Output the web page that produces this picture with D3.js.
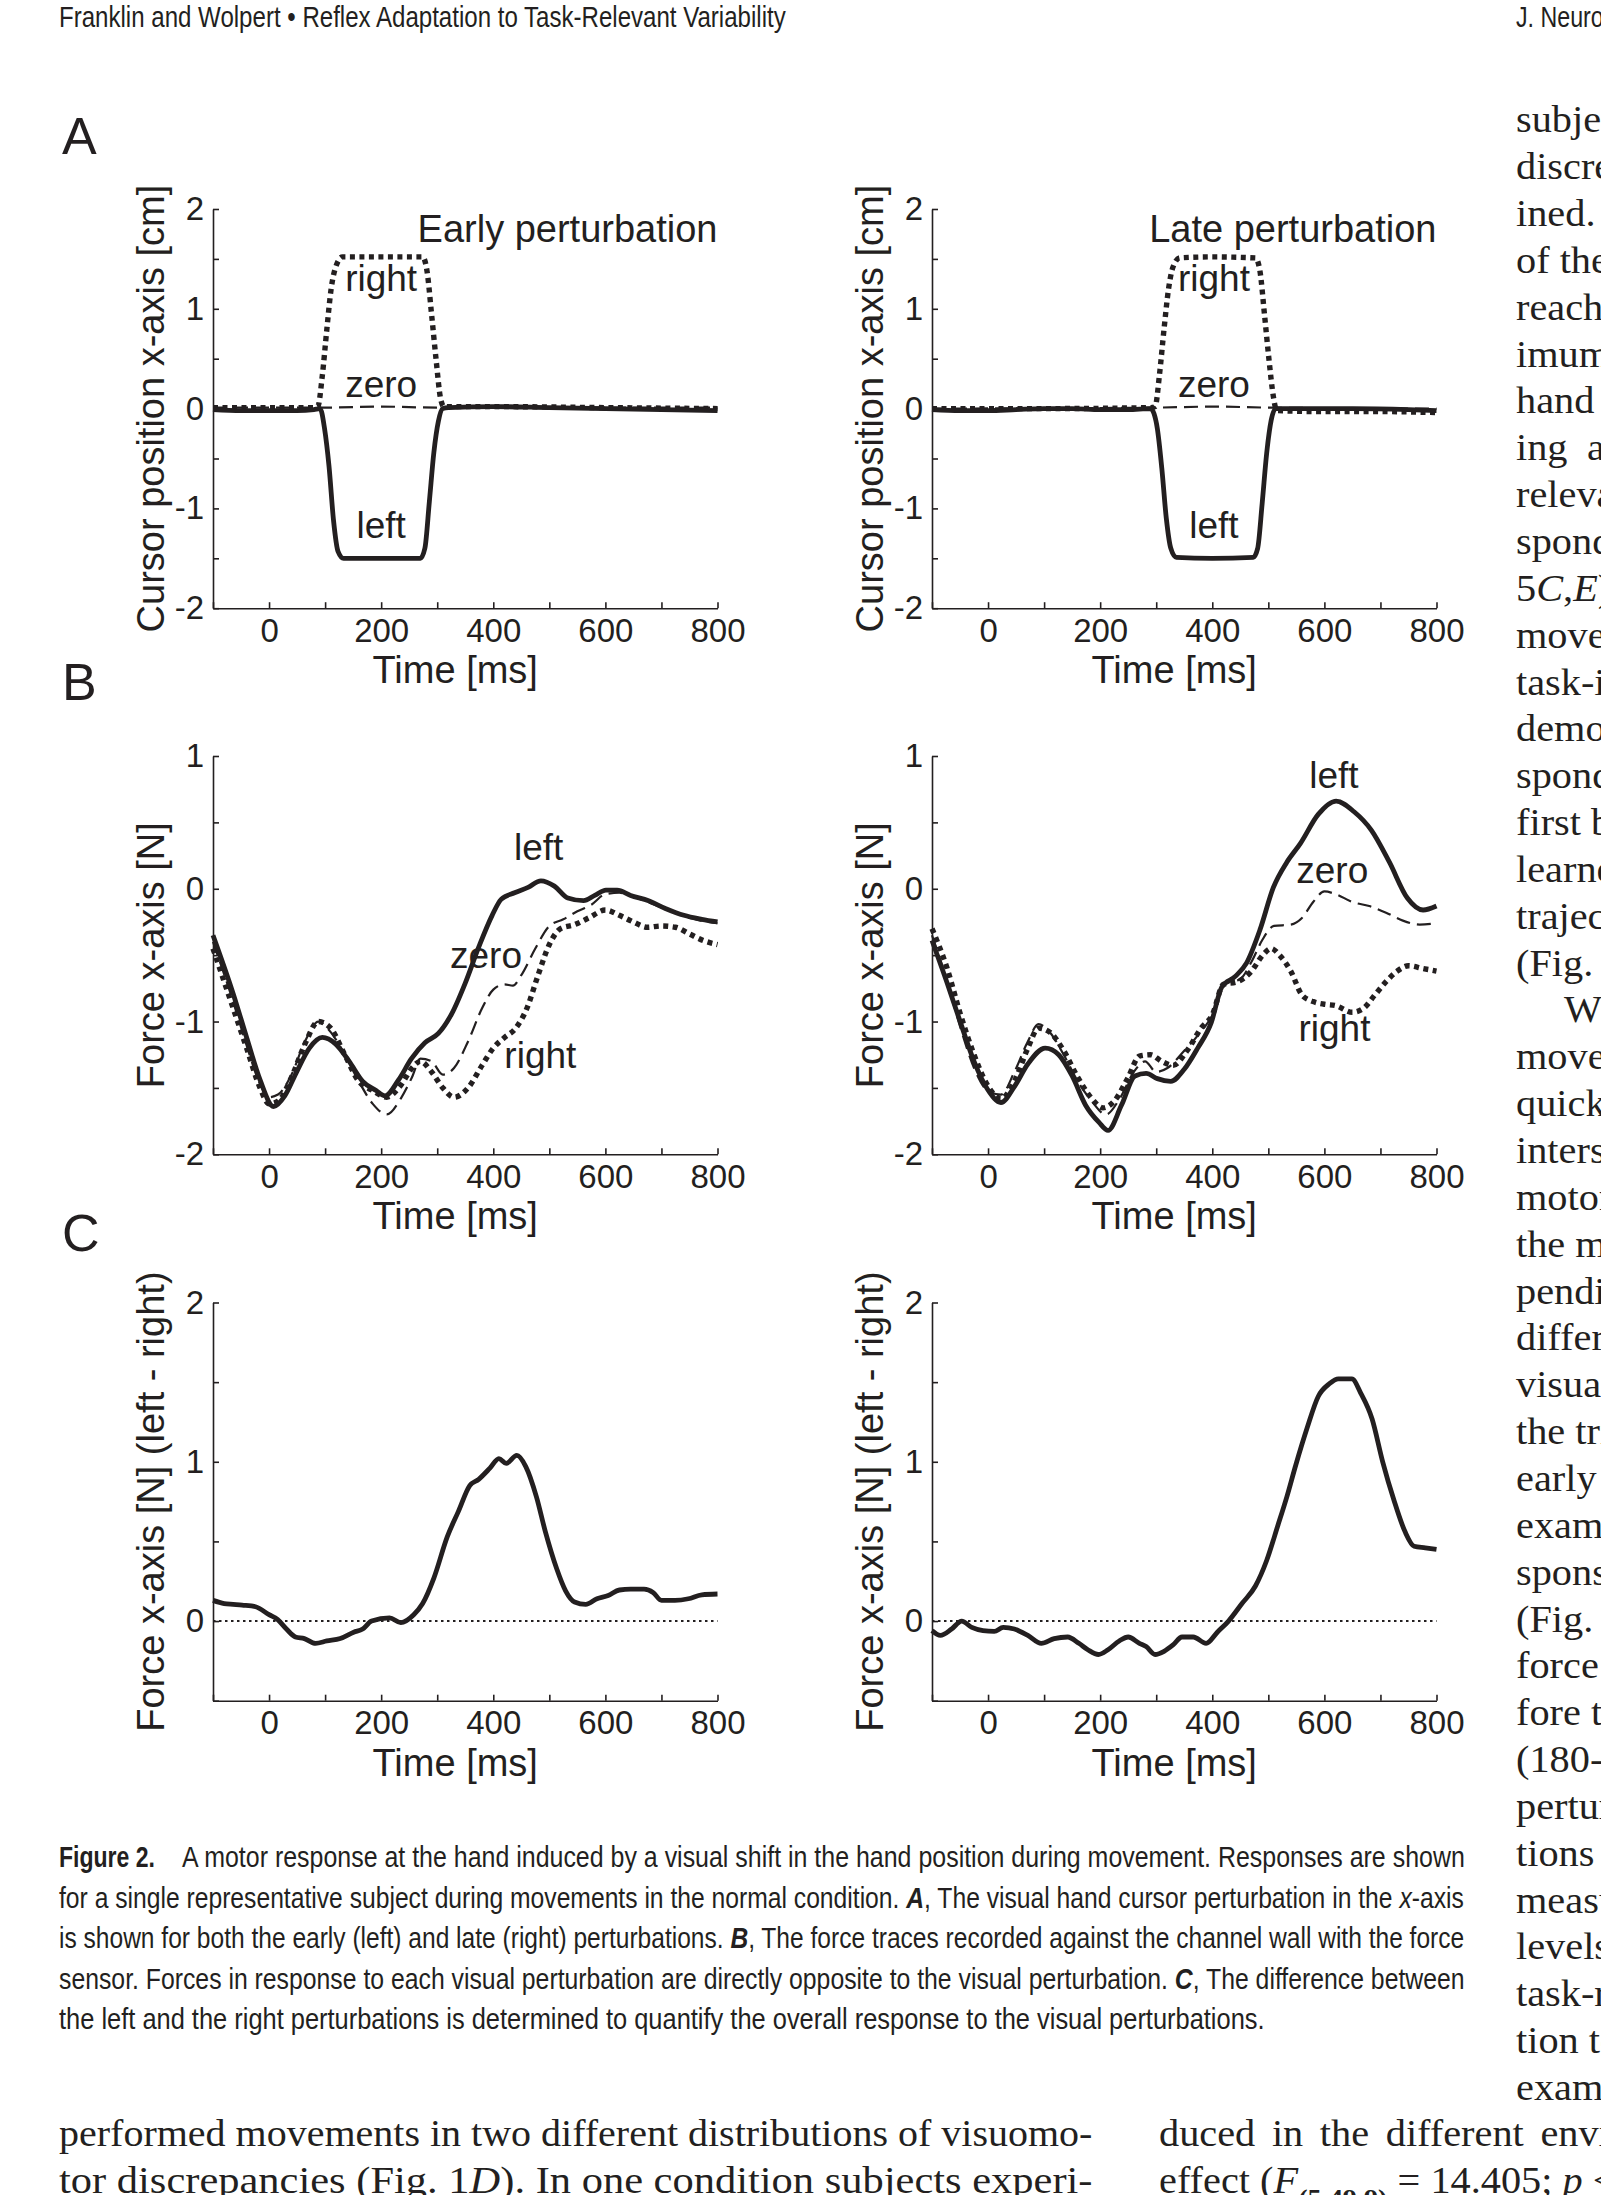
<!DOCTYPE html>
<html>
<head>
<meta charset="utf-8">
<script src="https://cdn.jsdelivr.net/npm/d3@7"></script>
<style>
  body { margin: 0; background: #fff; }
  svg text { fill: #231f20; }
</style>
</head>
<body>
<svg id="page" width="1601" height="2195"></svg>
<script>
const ink = "#231f20";
const sans = "'Liberation Sans', Arial, sans-serif";
const serif = "'Liberation Serif', 'Times New Roman', serif";

/* axis ticks */
const timeTicks = [-100, 0, 100, 200, 300, 400, 500, 600, 700, 800];
const timeLabels = [0, 200, 400, 600, 800];
const cursorTicks = [-2, -1.5, -1, -0.5, 0, 0.5, 1, 1.5, 2];
const forceTicks = [-2, -1.5, -1, -0.5, 0, 0.5, 1];
const diffTicks = [-0.5, 0, 0.5, 1, 1.5, 2];

/* A: cursor position [cm], [time ms, value] */
const cursorEarlyLeft = [[-100,-0.01],[-50,-0.02],[0,-0.02],[50,-0.02],[80,-0.01],[91,0],[99,-0.2],[107,-0.58],[115,-1.12],[123,-1.43],[133,-1.5],[200,-1.5],[270,-1.5],[278,-1.4],[286,-0.93],[294,-0.44],[302,-0.13],[310,0],[320,0.01],[400,0.02],[500,0.01],[600,0],[700,-0.01],[800,-0.02]];
const cursorEarlyRight = [[-100,0.01],[0,0.01],[80,0.01],[87,0.02],[95,0.33],[103,0.79],[111,1.21],[119,1.42],[131,1.52],[200,1.52],[274,1.52],[282,1.37],[290,0.94],[298,0.49],[306,0.1],[312,0.02],[400,0.02],[600,0.01],[800,0]];
const cursorEarlyZero = [[-100,0.01],[100,0.01],[200,0.02],[300,0.01],[500,0.01],[800,0.01]];
const cursorLateLeft = [[-100,-0.01],[-50,-0.02],[0,-0.02],[50,-0.01],[100,0],[150,0],[200,-0.01],[250,-0.01],[290,0],[296,-0.05],[302,-0.2],[310,-0.6],[318,-1.1],[326,-1.4],[336,-1.49],[400,-1.5],[473,-1.49],[481,-1.4],[489,-0.95],[497,-0.45],[505,-0.12],[513,0],[550,0],[650,0],[750,-0.01],[800,-0.02]];
const cursorLateRight = [[-100,0],[100,0],[290,0.01],[298,0.02],[306,0.35],[314,0.8],[322,1.2],[330,1.42],[342,1.51],[400,1.52],[477,1.51],[485,1.38],[493,0.95],[501,0.5],[509,0.12],[515,-0.02],[600,-0.03],[700,-0.03],[800,-0.04]];
const cursorLateZero = [[-100,0],[300,0.01],[400,0.02],[500,0.01],[800,0]];

/* B: force x-axis [N] */
const forceEarlyLeft = [[-100,-0.35],[-64,-0.79],[-40,-1.12],[-16,-1.44],[8,-1.64],[28,-1.56],[48,-1.39],[72,-1.2],[95,-1.12],[119,-1.17],[143,-1.3],[167,-1.45],[191,-1.52],[207,-1.56],[231,-1.44],[254,-1.28],[278,-1.16],[302,-1.09],[326,-0.94],[350,-0.71],[374,-0.44],[398,-0.2],[414,-0.08],[438,-0.03],[462,0.01],[485,0.06],[509,0.02],[533,-0.07],[561,-0.09],[581,-0.05],[601,-0.01],[621,-0.01],[645,-0.05],[677,-0.09],[708,-0.15],[740,-0.2],[772,-0.23],[800,-0.25]];
const forceEarlyZero = [[-100,-0.4],[-64,-0.85],[-40,-1.18],[-16,-1.47],[0,-1.57],[16,-1.55],[40,-1.4],[64,-1.15],[88,-1.0],[110,-1.08],[135,-1.25],[160,-1.45],[185,-1.62],[210,-1.7],[235,-1.58],[255,-1.42],[270,-1.28],[290,-1.3],[310,-1.4],[330,-1.35],[355,-1.15],[380,-0.9],[400,-0.76],[420,-0.72],[435,-0.73],[450,-0.65],[475,-0.45],[500,-0.28],[525,-0.23],[550,-0.17],[575,-0.12],[600,-0.04],[625,-0.03],[650,-0.06],[700,-0.14],[750,-0.22],[800,-0.26]];
const forceEarlyRight = [[-100,-0.45],[-64,-0.9],[-40,-1.2],[-16,-1.5],[0,-1.62],[16,-1.6],[40,-1.42],[64,-1.17],[88,-1.0],[110,-1.05],[135,-1.25],[160,-1.45],[185,-1.52],[210,-1.57],[235,-1.48],[255,-1.35],[270,-1.3],[290,-1.38],[310,-1.5],[330,-1.57],[355,-1.5],[380,-1.33],[400,-1.2],[420,-1.12],[440,-1.05],[460,-0.9],[480,-0.65],[500,-0.42],[520,-0.3],[545,-0.27],[570,-0.22],[600,-0.16],[625,-0.2],[650,-0.25],[675,-0.29],[700,-0.28],[725,-0.29],[750,-0.34],[775,-0.39],[800,-0.42]];
const forceLateLeft = [[-100,-0.39],[-73,-0.71],[-49,-1.01],[-25,-1.3],[-1,-1.51],[23,-1.61],[47,-1.49],[71,-1.32],[102,-1.2],[126,-1.25],[150,-1.41],[174,-1.63],[198,-1.76],[214,-1.82],[238,-1.63],[262,-1.41],[282,-1.39],[302,-1.43],[326,-1.45],[350,-1.36],[374,-1.2],[398,-1.01],[417,-0.74],[441,-0.66],[461,-0.56],[485,-0.31],[509,0.01],[533,0.2],[557,0.34],[589,0.56],[621,0.66],[653,0.58],[684,0.44],[716,0.2],[748,-0.07],[776,-0.16],[800,-0.13]];
const forceLateZero = [[-100,-0.35],[-73,-0.7],[-49,-1.05],[-25,-1.35],[-1,-1.52],[23,-1.55],[47,-1.38],[71,-1.15],[90,-1.02],[110,-1.08],[135,-1.25],[160,-1.45],[185,-1.6],[210,-1.7],[235,-1.58],[260,-1.38],[280,-1.3],[300,-1.38],[320,-1.35],[350,-1.22],[375,-1.1],[400,-0.95],[420,-0.72],[450,-0.68],[470,-0.55],[490,-0.38],[510,-0.28],[540,-0.27],[560,-0.22],[580,-0.1],[600,-0.02],[620,-0.04],[650,-0.1],[680,-0.13],[710,-0.18],[740,-0.24],[770,-0.27],[800,-0.26]];
const forceLateRight = [[-100,-0.3],[-73,-0.6],[-49,-0.95],[-25,-1.25],[-1,-1.48],[23,-1.58],[47,-1.45],[71,-1.2],[90,-1.05],[110,-1.08],[135,-1.22],[160,-1.42],[185,-1.58],[205,-1.65],[225,-1.6],[250,-1.42],[270,-1.26],[290,-1.25],[310,-1.3],[330,-1.33],[355,-1.22],[380,-1.05],[400,-0.95],[420,-0.72],[445,-0.7],[470,-0.62],[490,-0.5],[505,-0.45],[520,-0.5],[540,-0.62],[560,-0.8],[580,-0.85],[600,-0.87],[620,-0.88],[650,-0.93],[670,-0.9],[690,-0.8],[710,-0.7],[730,-0.62],[750,-0.58],[775,-0.6],[800,-0.62]];

/* C: left - right difference [N] */
const diffEarly = [[-100,0.13],[-80,0.11],[-64,0.105],[-48,0.1],[-24,0.09],[0,0.04],[15,0.01],[31,-0.05],[47,-0.1],[63,-0.11],[83,-0.14],[103,-0.125],[127,-0.11],[151,-0.07],[167,-0.05],[183,0],[215,0.02],[235,-0.01],[258,0.04],[274,0.11],[294,0.27],[318,0.53],[338,0.69],[358,0.85],[374,0.89],[394,0.96],[410,1.02],[423,0.99],[442,1.04],[458,0.97],[477,0.78],[493,0.56],[513,0.33],[529,0.19],[545,0.12],[565,0.105],[585,0.14],[605,0.16],[625,0.195],[645,0.2],[669,0.2],[685,0.18],[700,0.13],[724,0.13],[748,0.14],[772,0.165],[800,0.17]];
const diffLate = [[-100,-0.06],[-85,-0.09],[-65,-0.05],[-47,0],[-29,-0.04],[-9,-0.06],[11,-0.065],[27,-0.04],[47,-0.05],[71,-0.09],[95,-0.14],[118,-0.11],[142,-0.1],[162,-0.14],[178,-0.18],[197,-0.21],[214,-0.18],[234,-0.125],[250,-0.1],[270,-0.14],[282,-0.16],[298,-0.21],[314,-0.19],[330,-0.15],[346,-0.1],[366,-0.1],[389,-0.14],[409,-0.07],[429,0],[453,0.11],[477,0.22],[497,0.38],[517,0.6],[533,0.78],[549,0.98],[569,1.21],[589,1.41],[609,1.49],[625,1.52],[649,1.52],[665,1.43],[685,1.27],[704,1.0],[724,0.76],[744,0.56],[760,0.47],[780,0.46],[800,0.45]];
const zeroRef = [[-100,0],[800,0]];

/* page text */
const headerLeft = "Franklin and Wolpert \u2022 Reflex Adaptation to Task-Relevant Variability";
const headerRight = "J. Neurosci.";
const sideColumn = ["subjects","discrepancies","ined.","of the","reaching","imum","hand","ing","relevant","spond","5C,E)","movement","task-irrelevant","demonstrated","spond","first by","learned","trajectory","(Fig.","W","movement","quickly","intersect","motor","the mo","pending","different","visual","the tri","early","example","sponse","(Fig.","force","fore the","(180-","perturb","tions","measured","levels","task-re","tion to","example"];

const svg = d3.select("#page");
const plotW = 504.5;
const line = (x, y) => d3.line().x(d => x(d[0])).y(d => y(d[1])).curve(d3.curveMonotoneX);

const styles = {
  solid: { w: 4.8, dash: null },
  dotted: { w: 5.4, dash: "5,4.5" },
  dashed: { w: 2.2, dash: "14,7" },
  refDot: { w: 2, dash: "2.5,3.5" }
};

function drawPanel(p) {
  const g = svg.append("g");
  const x = d3.scaleLinear().domain([-100, 800]).range([p.left, p.left + plotW]);
  const y = d3.scaleLinear().domain(p.yDomain).range([p.bottom, p.top]);

  const xAxis = g.append("g")
    .attr("transform", `translate(0,${p.bottom})`)
    .call(d3.axisBottom(x).tickValues(timeTicks).tickSize(-6).tickSizeOuter(0).tickPadding(10)
      .tickFormat(d => timeLabels.includes(d) ? d : ""));
  const yAxis = g.append("g")
    .attr("transform", `translate(${p.left},0)`)
    .call(d3.axisLeft(y).tickValues(p.yTicks).tickSize(-6).tickSizeOuter(0).tickPadding(9)
      .tickFormat(d => Number.isInteger(d) ? d : ""));
  [xAxis, yAxis].forEach(a => {
    a.attr("font-size", 33).attr("font-family", sans).attr("color", ink);
    a.selectAll("path, line").attr("stroke-width", 1.6);
  });

  p.series.forEach(s => {
    const st = styles[s.style];
    g.append("path")
      .datum(s.data)
      .attr("d", line(x, y))
      .attr("fill", "none")
      .attr("stroke", ink)
      .attr("stroke-width", st.w)
      .attr("stroke-dasharray", st.dash)
      .attr("stroke-linejoin", "round");
  });

  (p.labels || []).forEach(l => {
    g.append("text")
      .attr("x", x(l[1])).attr("y", y(l[2]))
      .attr("text-anchor", "middle")
      .attr("font-family", sans).attr("font-size", 37)
      .text(l[0]);
  });

  if (p.title) {
    g.append("text")
      .attr("x", x(800)).attr("y", y(1.67))
      .attr("text-anchor", "end")
      .attr("font-family", sans).attr("font-size", 38)
      .text(p.title);
  }

  g.append("text")
    .attr("x", p.left + plotW / 2 - 10).attr("y", p.bottom + 75)
    .attr("text-anchor", "middle")
    .attr("font-family", sans).attr("font-size", 38)
    .text("Time [ms]");

  g.append("text")
    .attr("transform", `translate(${p.left - 49},${(p.top + p.bottom) / 2}) rotate(-90)`)
    .attr("text-anchor", "middle")
    .attr("font-family", sans).attr("font-size", 38)
    .text(p.ylabel);
}

const leftX = 213, rightX = 932;

drawPanel({ left: leftX, top: 209, bottom: 608.2, yDomain: [-2, 2], yTicks: cursorTicks,
  ylabel: "Cursor position x-axis [cm]", title: "Early perturbation",
  series: [{ data: cursorEarlyZero, style: "dashed" }, { data: cursorEarlyRight, style: "dotted" }, { data: cursorEarlyLeft, style: "solid" }],
  labels: [["right", 200, 1.175], ["zero", 200, 0.12], ["left", 200, -1.3]] });
drawPanel({ left: rightX, top: 209, bottom: 608.2, yDomain: [-2, 2], yTicks: cursorTicks,
  ylabel: "Cursor position x-axis [cm]", title: "Late perturbation",
  series: [{ data: cursorLateZero, style: "dashed" }, { data: cursorLateRight, style: "dotted" }, { data: cursorLateLeft, style: "solid" }],
  labels: [["right", 403, 1.175], ["zero", 403, 0.12], ["left", 403, -1.3]] });

drawPanel({ left: leftX, top: 756, bottom: 1154.3, yDomain: [-2, 1], yTicks: forceTicks,
  ylabel: "Force x-axis [N]",
  series: [{ data: forceEarlyZero, style: "dashed" }, { data: forceEarlyRight, style: "dotted" }, { data: forceEarlyLeft, style: "solid" }],
  labels: [["left", 481, 0.215], ["zero", 387, -0.595], ["right", 484, -1.35]] });
drawPanel({ left: rightX, top: 756, bottom: 1154.3, yDomain: [-2, 1], yTicks: forceTicks,
  ylabel: "Force x-axis [N]",
  series: [{ data: forceLateZero, style: "dashed" }, { data: forceLateRight, style: "dotted" }, { data: forceLateLeft, style: "solid" }],
  labels: [["left", 617, 0.76], ["zero", 614, 0.04], ["right", 618, -1.15]] });

drawPanel({ left: leftX, top: 1302.5, bottom: 1700.7, yDomain: [-0.5, 2], yTicks: diffTicks,
  ylabel: "Force x-axis [N] (left - right)",
  series: [{ data: zeroRef, style: "refDot" }, { data: diffEarly, style: "solid" }] });
drawPanel({ left: rightX, top: 1302.5, bottom: 1700.7, yDomain: [-0.5, 2], yTicks: diffTicks,
  ylabel: "Force x-axis [N] (left - right)",
  series: [{ data: zeroRef, style: "refDot" }, { data: diffLate, style: "solid" }] });

/* panel letters */
[["A", 154], ["B", 700], ["C", 1251]].forEach(d => {
  svg.append("text").attr("x", 62).attr("y", d[1])
    .attr("font-family", sans).attr("font-size", 52).text(d[0]);
});

/* text helper: segments are [string, "b" | "i" | "bi" | "sub" | ""]
   opts.width squeezes/stretches the whole line to a width, opts.sx scales it */
function rich(x, y, segs, font, size, opts = {}) {
  const t = svg.append("text")
    .attr("font-family", font).attr("font-size", size)
    .style("white-space", "pre");
  segs.forEach(s => {
    const sp = t.append("tspan").text(s[0]);
    const f = s[1] || "";
    if (f.includes("b")) sp.attr("font-weight", "bold");
    if (f.includes("i")) sp.attr("font-style", "italic");
    if (f === "sub") sp.attr("font-size", size * 0.7).attr("baseline-shift", "sub");
  });
  if (opts.wordSpacing) t.attr("word-spacing", opts.wordSpacing);
  let sx = opts.sx || 1;
  if (opts.width) sx = opts.width / t.node().getComputedTextLength();
  t.attr("transform", `translate(${x},${y}) scale(${sx},1)`);
  return t;
}

/* running header */
rich(59, 27, [[headerLeft]], sans, 29, { width: 727 });
rich(1516, 27, [[headerRight]], sans, 29, { sx: 0.8 });

/* narrow right-hand text column */
const sideTop = 132.3, sidePitch = 46.85, sideSx = 1.09;
sideColumn.forEach((s, i) => {
  const y = sideTop + i * sidePitch;
  if (s === "5C,E)") {
    rich(1516, y, [["5"], ["C", "i"], [","], ["E", "i"], [")"]], serif, 37, { sx: sideSx });
  } else if (s === "W") {
    rich(1564, y, [[s]], serif, 37, { sx: sideSx });
  } else if (s === "ing") {
    rich(1516, y, [[s]], serif, 37, { sx: sideSx });
    rich(1587, y, [["a"]], serif, 37, { sx: sideSx });
  } else {
    rich(1516, y, [[s]], serif, 37, { sx: sideSx });
  }
});

/* caption */
const capTop = 1867, capPitch = 40.6, capSize = 29;
rich(59, capTop, [["Figure 2.", "b"]], sans, capSize, { width: 96 });
rich(182, capTop, [["A motor response at the hand induced by a visual shift in the hand position during movement. Responses are shown"]], sans, capSize, { width: 1283 });
rich(59, capTop + capPitch, [["for a single representative subject during movements in the normal condition. "], ["A", "bi"], [", The visual hand cursor perturbation in the "], ["x", "i"], ["-axis"]], sans, capSize, { width: 1406 });
rich(59, capTop + 2 * capPitch, [["is shown for both the early (left) and late (right) perturbations. "], ["B", "bi"], [", The force traces recorded against the channel wall with the force"]], sans, capSize, { width: 1406 });
rich(59, capTop + 3 * capPitch, [["sensor. Forces in response to each visual perturbation are directly opposite to the visual perturbation. "], ["C", "bi"], [", The difference between"]], sans, capSize, { width: 1406 });
rich(59, capTop + 4 * capPitch, [["the left and the right perturbations is determined to quantify the overall response to the visual perturbations."]], sans, capSize, { width: 1206 });

/* body text below the figure */
rich(59, 2146, [["performed movements in two different distributions of visuomo-"]], serif, 37, { width: 1034 });
rich(59, 2192.5, [["tor discrepancies (Fig. 1"], ["D", "i"], ["). In one condition subjects experi-"]], serif, 37, { width: 1034 });
rich(1159, 2146, [["duced in the different environments"]], serif, 37, { sx: sideSx, wordSpacing: 6 });
rich(1159, 2192.5, [["effect ("], ["F", "i"], ["(5,49.9)", "sub"], [" = 14.405; "], ["p", "i"], [" < 0.001)"]], serif, 37, { sx: sideSx });
</script>
</body>
</html>
